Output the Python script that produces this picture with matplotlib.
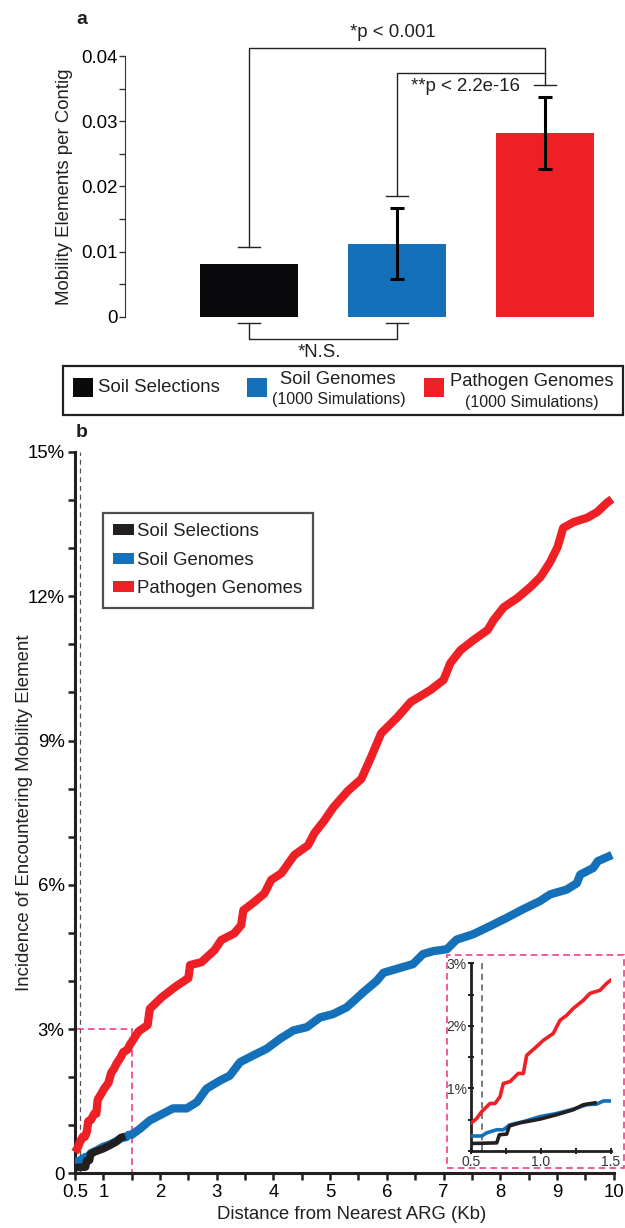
import numpy as np
import matplotlib
matplotlib.use("Agg")
import matplotlib.pyplot as plt
from matplotlib.patches import Rectangle, Patch

plt.rcParams['font.family'] = ['Liberation Sans', 'DejaVu Sans']
plt.rcParams['text.color'] = '#231f20'
plt.rcParams['axes.labelcolor'] = '#231f20'

# ---- panel a data ----
groups = ['Soil Selections', 'Soil Genomes', 'Pathogen Genomes']
bar_vals = [0.0081, 0.0112, 0.0282]
err_low = [0.0, 0.0054, 0.0055]
err_high = [0.0, 0.0055, 0.0055]
stub_vals = [0.0107, 0.0185, 0.0355]
p_outer = '*p < 0.001'
p_inner = '**p < 2.2e-16'
p_ns = '*N.S.'

# ---- panel b data (distance in Kb, incidence in %) ----
path_x = [0.5, 0.543, 0.579, 0.638, 0.674, 0.71, 0.733, 0.781, 0.84, 0.876, 0.9, 0.971,
          1.019, 1.09, 1.138, 1.186, 1.233, 1.305, 1.352, 1.424, 1.471, 1.5,
          1.62, 1.78, 1.82, 2.03, 2.26, 2.5, 2.53, 2.73, 2.96, 3.08, 3.31, 3.43, 3.47,
          3.66, 3.84, 3.96, 4.14, 4.37, 4.61, 4.72, 4.90, 5.05, 5.31, 5.55, 5.72, 5.90,
          6.19, 6.42, 6.77, 7.00, 7.12, 7.30, 7.53, 7.78, 7.88, 8.06, 8.30, 8.53, 8.71,
          8.88, 9.01, 9.11, 9.29, 9.53, 9.71, 9.88, 9.97]
path_y = [0.44, 0.52, 0.63, 0.76, 0.76, 0.87, 1.08, 1.11, 1.24, 1.24, 1.53, 1.67,
          1.77, 1.88, 2.09, 2.17, 2.28, 2.41, 2.52, 2.57, 2.68, 2.73,
          2.95, 3.08, 3.42, 3.66, 3.87, 4.06, 4.33, 4.39, 4.64, 4.85, 4.99, 5.16, 5.47,
          5.64, 5.82, 6.10, 6.24, 6.62, 6.82, 7.07, 7.34, 7.60, 7.95, 8.20, 8.65, 9.15,
          9.49, 9.80, 10.05, 10.26, 10.61, 10.88, 11.09, 11.30, 11.50, 11.77, 11.96, 12.19, 12.40,
          12.71, 13.02, 13.42, 13.54, 13.63, 13.75, 13.94, 14.02]
soilg_x = [0.5, 0.579, 0.614, 0.686, 0.733, 0.781, 0.876, 0.995, 1.114, 1.233, 1.329, 1.40,
           1.448, 1.5, 1.65, 1.82, 2.0, 2.23, 2.47, 2.65, 2.82, 3.06, 3.23, 3.41, 3.64,
           3.88, 4.12, 4.35, 4.59, 4.82, 5.05, 5.29, 5.45, 5.58, 5.82, 5.94, 6.17, 6.46,
           6.64, 6.82, 7.06, 7.23, 7.52, 7.82, 8.11, 8.40, 8.70, 8.88, 9.17, 9.35, 9.41,
           9.64, 9.72, 9.97]
soilg_y = [0.24, 0.24, 0.29, 0.34, 0.34, 0.42, 0.47, 0.55, 0.60, 0.67, 0.74, 0.75,
           0.80, 0.80, 0.93, 1.10, 1.21, 1.35, 1.35, 1.48, 1.76, 1.93, 2.03, 2.31, 2.45,
           2.59, 2.80, 2.97, 3.04, 3.24, 3.31, 3.45, 3.62, 3.76, 4.00, 4.17, 4.25, 4.35,
           4.56, 4.62, 4.66, 4.86, 4.97, 5.14, 5.31, 5.49, 5.66, 5.80, 5.90, 6.03, 6.21,
           6.35, 6.49, 6.62]
sel_x = [0.5, 0.686, 0.705, 0.757, 0.776, 0.852, 0.995, 1.114, 1.233, 1.305, 1.388]
sel_y = [0.12, 0.13, 0.26, 0.27, 0.40, 0.45, 0.51, 0.58, 0.66, 0.74, 0.77]
cutoff_kb = 0.58

c_black = '#0a0a0c'
c_blue = '#1470b8'
c_red = '#ee2026'
c_pink = '#ef3e8e'

W, H = 625, 1228
fig = plt.figure(figsize=(W / 100, H / 100), dpi=100)


def fx(px):
    return px / W


def fy(py):
    return 1 - py / H


# ================= panel a =================
axa = fig.add_axes([0.2, 0.7101, 0.8023, 0.2708])
xpos = np.arange(len(groups))
axa.bar(xpos, bar_vals, 0.66, color=[c_black, c_blue, c_red], zorder=2)
for i in [1, 2]:
    axa.errorbar(xpos[i], bar_vals[i], yerr=[[err_low[i]], [err_high[i]]], fmt='none',
                 ecolor='black', elinewidth=2.2, capsize=5, capthick=2.2, zorder=3)

axa.set_xlim(-0.838, 2.55)
axa.set_ylim(-0.006, 0.045)
axa.spines[['top', 'right', 'bottom']].set_visible(False)
axa.spines['left'].set_bounds(0, 0.04)
axa.spines['left'].set_color('#333333')
axa.set_xticks([])
axa.set_yticks([0, 0.01, 0.02, 0.03, 0.04])
axa.set_yticklabels(['0', '0.01', '0.02', '0.03', '0.04'])
axa.set_yticks(np.arange(0.005, 0.04, 0.01), minor=True)
axa.tick_params(axis='y', which='both', length=4, width=1, color='#333333',
                labelsize=13.4, pad=1.5)
axa.set_ylabel('Mobility Elements per Contig', fontsize=13.4)
axa.yaxis.set_label_coords(-0.1037, 0.508)

# significance brackets
lw_b = 1.0
sw = 0.075
top_outer, top_inner = 0.0412, 0.0374
for i in range(3):
    axa.plot([xpos[i] - sw, xpos[i] + sw], [stub_vals[i]] * 2, color='#222222', lw=lw_b,
             clip_on=False)
axa.plot([xpos[0], xpos[0], xpos[2], xpos[2]],
         [stub_vals[0], top_outer, top_outer, stub_vals[2]], color='#222222', lw=lw_b,
         clip_on=False)
axa.plot([xpos[1], xpos[1], xpos[2]], [stub_vals[1], top_inner, top_inner],
         color='#222222', lw=lw_b, clip_on=False)
low_stub, low_line = -0.001, -0.0034
for i in [0, 1]:
    axa.plot([xpos[i] - sw, xpos[i] + sw], [low_stub] * 2, color='#222222', lw=lw_b,
             clip_on=False)
axa.plot([xpos[0], xpos[0], xpos[1], xpos[1]], [low_stub, low_line, low_line, low_stub],
         color='#222222', lw=lw_b, clip_on=False)
axa.text(0.97, 0.04356, p_outer, ha='center', va='center', fontsize=13.4)
axa.text(1.46, 0.0354, p_inner, ha='center', va='center', fontsize=13.4)
axa.text(0.473, -0.0054, p_ns, ha='center', va='center', fontsize=13.4)

# legend for panel a
fig.patches.append(Rectangle((fx(63), fy(415)), fx(623) - fx(63), fy(366) - fy(415),
                             transform=fig.transFigure, fill=False, edgecolor='#231f20',
                             lw=1.6))
sq_w, sq_h = fx(20) - fx(0), fy(378) - fy(397)
for sx, col in zip([73, 247, 424], [c_black, c_blue, c_red]):
    fig.patches.append(Rectangle((fx(sx), fy(397)), sq_w, sq_h, transform=fig.transFigure,
                                 facecolor=col, edgecolor='none'))
fig.text(fx(98), fy(388), groups[0], ha='left', va='center', fontsize=13.4)
fig.text(fx(338), fy(380), groups[1], ha='center', va='center', fontsize=13.2)
fig.text(fx(339), fy(400), '(1000 Simulations)', ha='center', va='center', fontsize=11.5)
fig.text(fx(532), fy(381), groups[2], ha='center', va='center', fontsize=13.2)
fig.text(fx(532), fy(403), '(1000 Simulations)', ha='center', va='center', fontsize=11.5)

fig.text(fx(76), fy(24), 'a', fontsize=14, fontweight='bold', ha='left', va='baseline')
fig.text(fx(76), fy(437), 'b', fontsize=14, fontweight='bold', ha='left', va='baseline')

# ================= panel b =================
axb = fig.add_axes([0.12, 0.04454, 0.8618, 0.5874])
axb.plot(soilg_x, soilg_y, color=c_blue, lw=6, solid_capstyle='butt', clip_on=False,
         zorder=3, label='Soil Genomes')
axb.plot(path_x, path_y, color=c_red, lw=6, solid_capstyle='butt', clip_on=False,
         zorder=3, label='Pathogen Genomes')
axb.plot(sel_x, sel_y, color='#231f20', lw=5.5, solid_capstyle='butt', clip_on=False,
         zorder=4, label='Soil Selections')
axb.axvline(cutoff_kb, color='#555555', lw=0.9, dashes=(4, 3), zorder=1)
axb.add_patch(Rectangle((0.5, 0), 1.0, 3.0, fill=False, edgecolor=c_pink, lw=1.2,
                        linestyle=(0, (4, 2.5)), zorder=2, clip_on=False))
axb.set_xlim(0.5, 10)
axb.set_ylim(0, 15)
axb.spines[['top', 'right']].set_visible(False)
for s in ['left', 'bottom']:
    axb.spines[s].set_linewidth(2.2)
    axb.spines[s].set_color('#231f20')
xt = [0.5] + list(range(1, 11))
axb.set_xticks(xt)
axb.set_xticklabels(['0.5'] + [str(v) for v in range(1, 11)])
axb.set_xticks(np.arange(1.5, 10, 1.0), minor=True)
axb.set_yticks([0, 3, 6, 9, 12, 15])
axb.set_yticklabels(['0', '3%', '6%', '9%', '12%', '15%'])
axb.set_yticks([1, 2, 4, 5, 7, 8, 10, 11, 13, 14], minor=True)
axb.tick_params(which='both', length=5, width=1.8, color='#231f20', labelsize=13.4, pad=2.5)
axb.set_xlabel('Distance from Nearest ARG (Kb)', fontsize=13.4)
axb.xaxis.set_label_coords(0.514, -0.0453)
axb.set_ylabel('Incidence of Encountering Mobility Element', fontsize=13.4)
axb.yaxis.set_label_coords(-0.078, 0.5)

handles = [Patch(facecolor='#231f20', label='Soil Selections'),
           Patch(facecolor=c_blue, label='Soil Genomes'),
           Patch(facecolor=c_red, label='Pathogen Genomes')]
leg = axb.legend(handles=handles, loc='upper left', bbox_to_anchor=(fx(103), fy(513)),
                 bbox_transform=fig.transFigure, fontsize=13.4, frameon=True,
                 fancybox=False, handlelength=1.1, handleheight=0.55, handletextpad=0.2,
                 labelspacing=0.62, borderpad=0.55, borderaxespad=0)
leg.get_frame().set_edgecolor('#231f20')
leg.get_frame().set_linewidth(1.6)

# inset
axi = fig.add_axes([0.7531, 0.0627, 0.224, 0.1528])
axi.plot(soilg_x, soilg_y, color=c_blue, lw=2.6, zorder=3)
axi.plot(path_x, path_y, color=c_red, lw=2.6, zorder=3)
axi.plot(sel_x, sel_y, color='#231f20', lw=2.6, zorder=4)
axi.axvline(cutoff_kb, color='#555555', lw=1.1, dashes=(4, 3), zorder=1)
axi.set_xlim(0.5, 1.5)
axi.set_ylim(0, 3)
axi.patch.set_alpha(0)
axi.spines[['top', 'right']].set_visible(False)
for s in ['left', 'bottom']:
    axi.spines[s].set_linewidth(2.0)
    axi.spines[s].set_color('#231f20')
axi.set_xticks([0.5, 1.0, 1.5])
axi.set_xticklabels(['0.5', '1.0', '1.5'])
axi.set_xticks([0.75, 1.25], minor=True)
axi.set_yticks([0, 1, 2, 3])
axi.set_yticklabels(['', '1%', '2%', '3%'])
axi.set_yticks([0.5, 1.5, 2.5], minor=True)
axi.tick_params(which='both', direction='inout', length=4, width=1.4, color='#231f20',
                labelsize=10, pad=1, labelcolor='#333333')

fig.patches.append(Rectangle((fx(447), fy(1168)), fx(624) - fx(447), fy(955) - fy(1168),
                             transform=fig.transFigure, fill=False, edgecolor=c_pink,
                             lw=1.2, linestyle=(0, (4, 2.5))))

fig.savefig('out.png', dpi=100)
